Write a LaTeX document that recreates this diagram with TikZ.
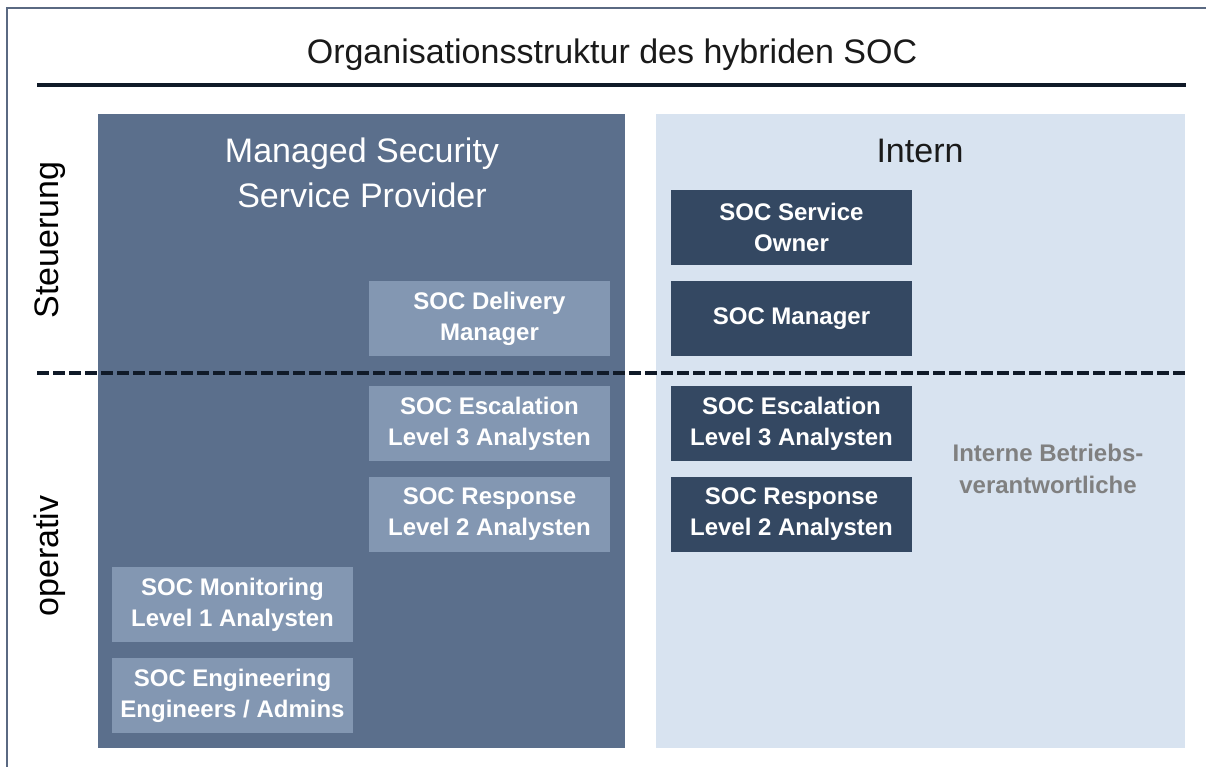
\documentclass[tikz,border=0pt]{standalone}
\usepackage{fontspec}
\setmainfont{Liberation Sans}
\definecolor{framec}{HTML}{5A6982}
\definecolor{linec}{HTML}{101A28}
\definecolor{msspc}{HTML}{5B6F8C}
\definecolor{lightbox}{HTML}{8397B2}
\definecolor{darkbox}{HTML}{344862}
\definecolor{internc}{HTML}{D8E3F0}
\definecolor{grayt}{HTML}{808080}
\definecolor{titlec}{HTML}{1A1A1A}
\tikzset{
  panel/.style={draw=none, minimum width=527pt, minimum height=634pt, inner sep=0pt, anchor=north west},
  lbox/.style={fill=lightbox, draw=none, minimum width=241pt, minimum height=75pt, inner sep=0pt, align=center, text=white, font=\fontsize{24}{31}\selectfont\bfseries},
  dbox/.style={lbox, fill=darkbox},
  bigtext/.style={font=\fontsize{34}{45}\selectfont, align=center, inner sep=0pt},
  sidelabel/.style={font=\fontsize{34}{40}\selectfont, rotate=90, inner sep=0pt, text=black},
}
\begin{document}
\begin{tikzpicture}[x=1pt,y=-1pt]
\useasboundingbox (0,0) rectangle (1206,767);
\fill[white] (0,0) rectangle (1206,767);
% frame
\draw[framec, line width=2pt] (7,767) -- (7,8) -- (1206,8);
% title
\node[bigtext, text=titlec] (title) at (612,55) {Organisationsstruktur des hybriden SOC};
\coordinate (tl) at (37,85);
\coordinate (tr) at (1186,85);
\draw[linec, line width=3.5pt] (tl) -- (tr);
% panels
\node[panel, fill=msspc] (mssp) at (98,114) {};
\node[panel, fill=internc, minimum width=529pt] (intern) at (656,114) {};
\node[bigtext, text=white] (mssptitle) at (362,173) {Managed Security\\Service Provider};
\node[bigtext, text=titlec] (interntitle) at (920,151) {Intern};
% dashed separator
\coordinate (dl) at (37,373);
\coordinate (dr) at (1186,373);
\draw[linec, line width=3.5pt, dash pattern=on 12pt off 4pt] (dl) -- (dr);
% side labels
\node[sidelabel] (steu) at (50,240) {Steuerung};
\node[sidelabel] (oper) at (50,556) {operativ};
% MSSP boxes
\node[lbox] (deliv) at (489.5,318.5) {SOC Delivery\\Manager};
\node[lbox] (esc1) at (489.5,423.5) {SOC Escalation\\Level 3 Analysten};
\node[lbox] (resp1) at (489.5,514.5) {SOC Response\\Level 2 Analysten};
\node[lbox] (mon) at (232.5,604.5) {SOC Monitoring\\Level 1 Analysten};
\node[lbox] (eng) at (232.5,695.5) {SOC Engineering\\Engineers / Admins};
% Intern boxes
\node[dbox] (owner) at (791.5,227.5) {SOC Service\\Owner};
\node[dbox] (mgr) at (791.5,318.5) {SOC Manager};
\node[dbox] (esc2) at (791.5,423.5) {SOC Escalation\\Level 3 Analysten};
\node[dbox] (resp2) at (791.5,514.5) {SOC Response\\Level 2 Analysten};
\node[font=\fontsize{24}{32}\selectfont\bfseries, text=grayt, align=center, inner sep=0pt] (betr) at (1048,469) {Interne Betriebs-\\verantwortliche};
\end{tikzpicture}
\end{document}
